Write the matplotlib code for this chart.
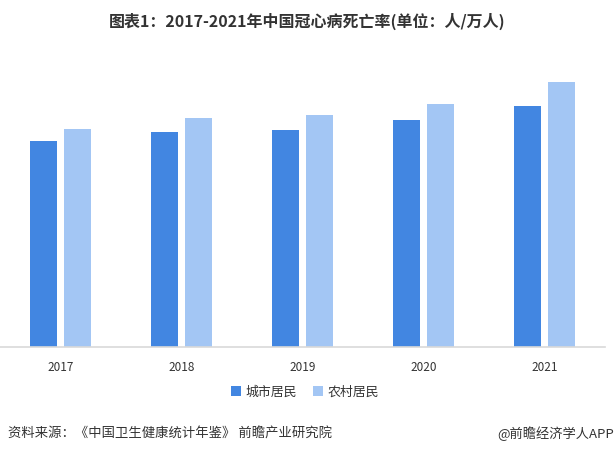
import matplotlib
matplotlib.use("Agg")
import matplotlib.pyplot as plt
import numpy as np

plt.rcParams['font.family'] = ['Noto Sans CJK SC', 'DejaVu Sans']

years = ['2017', '2018', '2019', '2020', '2021']
city = [115.32, 120.18, 121.59, 126.91, 135.08]
rural = [122.04, 128.24, 130.14, 135.88, 148.19]
series_names = ['城市居民', '农村居民']
title = '图表1：2017-2021年中国冠心病死亡率(单位：人/万人)'
source = '资料来源：《中国卫生健康统计年鉴》 前瞻产业研究院'
brand = '@前瞻经济学人APP'

c_city = '#4286e1'
c_rural = '#a3c6f4'

fig = plt.figure(figsize=(6.14, 4.54), dpi=100)
ax = fig.add_axes([0.0, 1 - 347 / 454, 605 / 614, 285.8 / 454])

x = np.arange(len(years))
w = 0.223
off = 0.14
ax.bar(x - off, city, width=w, color=c_city, label=series_names[0], zorder=2)
ax.bar(x + off, rural, width=w, color=c_rural, label=series_names[1], zorder=2)

ax.set_xlim(-0.5, len(years) - 0.5)
ax.set_ylim(0, 160)
ax.set_xticks(x)
ax.set_xticklabels(years, fontsize=8.5, color='#333333')
ax.tick_params(axis='x', length=0, pad=10)
ax.set_yticks([])
for s in ['top', 'right', 'left']:
    ax.spines[s].set_visible(False)
ax.spines['bottom'].set_color('#d9d9d9')
ax.spines['bottom'].set_linewidth(1.2)

fig.text(0.5, 1 - 21 / 454, title, ha='center', va='center', fontsize=11.5,
         fontweight='bold', color='#333333')

leg = fig.legend(loc='center', bbox_to_anchor=(0.497, 1 - 392 / 454), ncol=2,
                 frameon=False, fontsize=9.3, handlelength=0.75, handleheight=0.75,
                 handletextpad=0.4, columnspacing=1.2)
for t in leg.get_texts():
    t.set_color('#333333')

fig.text(8 / 614, 1 - 434 / 454, source, ha='left', va='center', fontsize=9.6,
         color='#333333')
fig.text(1.0, 1 - 434 / 454, brand, ha='right', va='center', fontsize=9.5,
         color='#333333')

fig.savefig('out.png', dpi=100)
